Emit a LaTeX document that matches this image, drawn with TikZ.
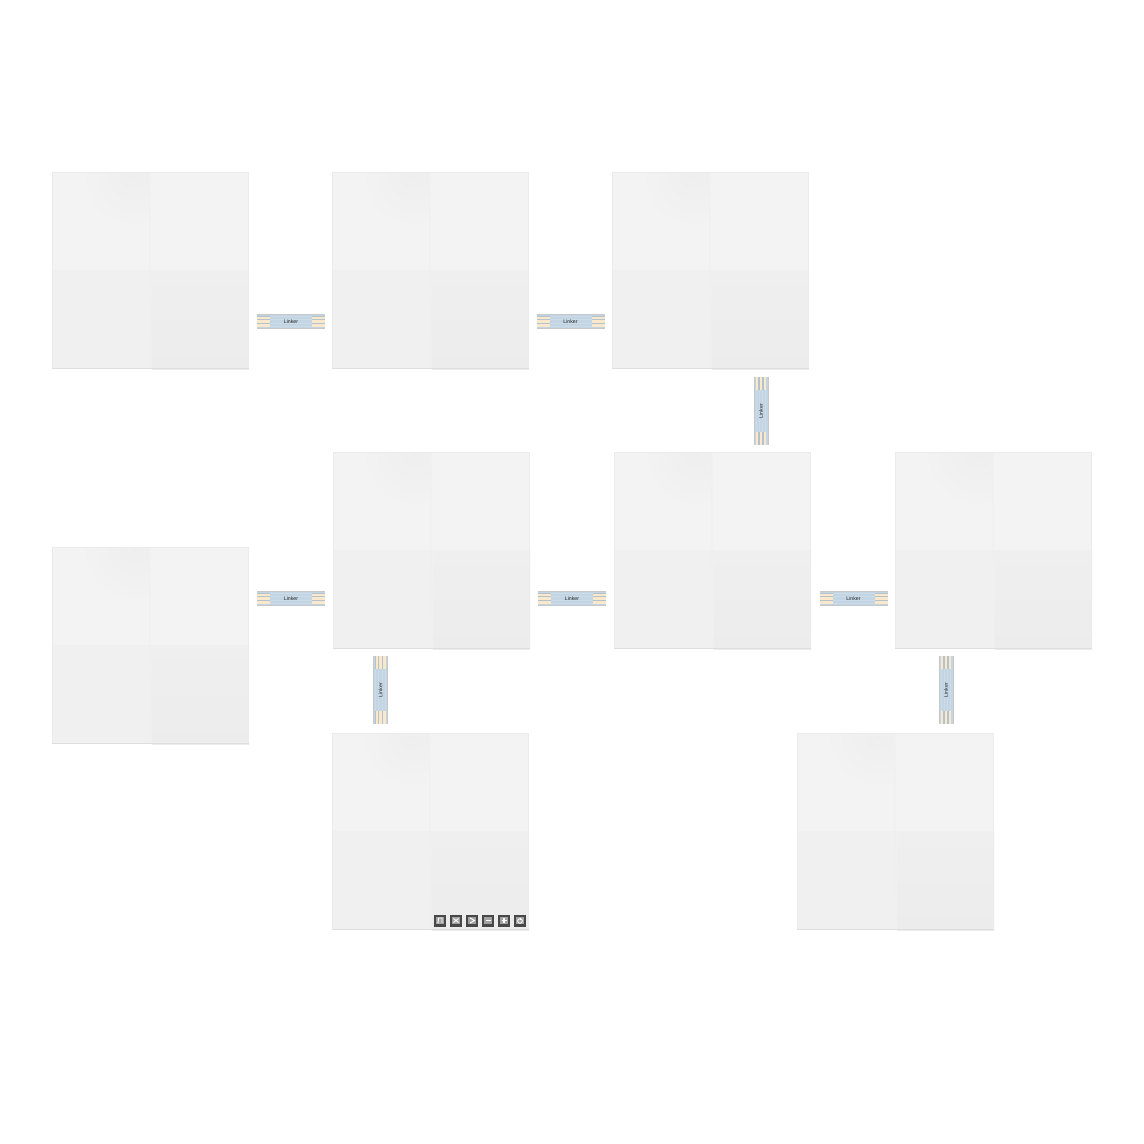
\documentclass[tikz,border=0pt]{standalone}
\usepackage{fontspec}
\setmainfont{Liberation Sans}
\definecolor{lkblue}{HTML}{C3D5E3}
\definecolor{lkstripe}{HTML}{CBDBE7}
\definecolor{lkgold}{HTML}{F9E8CC}
\definecolor{lkgap}{HTML}{B4C2CC}
\definecolor{icondark}{HTML}{484848}
\definecolor{iconmid}{HTML}{A2A2A2}
\colorlet{F1}{black!4.6}\colorlet{F1c}{black!6.6}
\colorlet{F2}{black!4.6}
\colorlet{F3}{black!5.9}
\colorlet{F4}{black!6.3}\colorlet{F4b}{black!7.4}
\colorlet{Seam}{black!6.2}
\colorlet{E1}{black!8}\colorlet{E2}{black!13}
\tikzset{
  panelbox/.style={minimum size=197pt,inner sep=0pt,outer sep=0pt,anchor=north west},
  linkh/.style={minimum width=68pt,minimum height=15pt,inner sep=0pt,outer sep=0pt,font=\fontsize{5.2}{6}\selectfont,text=black!85},
  linkv/.style={linkh,rotate=90},
  iconbox/.style={minimum size=12pt,inner sep=0pt,fill=icondark,draw=none},
  glyph/.style={draw=white,line width=.9pt}
}
\newcommand{\panelat}[3]{%
  \node[panelbox] (#1) at (#2,#3) {};
  \begin{scope}[shift={(#2,#3)}]
    \fill[F1] (0,0) rectangle (98,98);
    \begin{scope}
      \clip (0,0) rectangle (98,98);
      \shade[inner color=F1c,outer color=F1] (82,2) circle (58);
    \end{scope}
    \fill[F2] (98,0) rectangle (197,98);
    \fill[F3] (0,98) rectangle (100,197);
    \fill[top color=F4,bottom color=F4b] (100,98) rectangle (197,197);
    \draw[Seam,line width=.7pt] (98,0) -- (98,98) -- (100,197);
    \draw[Seam,line width=.7pt] (0,98) -- (197,98);
    \draw[E1,line width=1pt] (.5,.5) rectangle (196.5,196.5);
    \draw[E2,line width=.8pt] (0,196.6) -- (197,196.6);
  \end{scope}}
\newcommand{\linkerat}[5]{% name, cx, cy, angle, style
  \begin{scope}[shift={(#2,#3)},rotate=#4]
    \fill[lkblue] (-34,-7.5) rectangle (34,7.5);
    \foreach \y in {-5.2,-2.2,1.4,4.4}{
      \fill[lkstripe] (-21,\y) rectangle (21,\y+.8);
    }
    \foreach \s in {-1,1}{
      \fill[lkgap] (\s*34,-5.4) rectangle (\s*21,5.4);
      \foreach \y in {-5,-1.1,2.8}{
        \fill[lkgold] (\s*34,\y) rectangle (\s*21,\y+2.2);
      }
    }
    \draw[black!22,line width=.5pt] (-34,-7.2) -- (34,-7.2) (-34,7.2) -- (34,7.2);
  \end{scope}
  \node[#5] (#1) at (#2,#3) {Linker};}
\newcommand{\iconat}[2]{\node[iconbox] (#1) at (#2,920.5) {};
  \fill[iconmid] (#2-3.9,916.6) rectangle (#2+3.9,924.4);}
\begin{document}
\begin{tikzpicture}[x=1pt,y=-1pt]
\useasboundingbox (0,0) rectangle (1144,1144);
\fill[white] (0,0) rectangle (1144,1144);
\panelat{p1}{52}{172}
\panelat{p2}{332}{172}
\panelat{p3}{612}{172}
\panelat{p4}{333}{452}
\panelat{p5}{614}{452}
\panelat{p6}{895}{452}
\panelat{p7}{52}{547}
\panelat{p8}{332}{733}
\panelat{p9}{797}{733}
\linkerat{l1}{291}{321.5}{0}{linkh}
\linkerat{l2}{570.5}{321.5}{0}{linkh}
\linkerat{l3}{291}{598.5}{0}{linkh}
\linkerat{l4}{572}{598.5}{0}{linkh}
\linkerat{l5}{853.5}{598.5}{0}{linkh}
\linkerat{l6}{761}{411}{-90}{linkv}
\linkerat{l7}{380.5}{690}{-90}{linkv}
\linkerat{l8}{946}{690}{-90}{linkv}
\iconat{i1}{440}
\iconat{i2}{456}
\iconat{i3}{472}
\iconat{i4}{488}
\iconat{i5}{504}
\iconat{i6}{520}
\draw[glyph] (438,923.5) -- (438.5,918) -- (442,918) -- (442,923);
\draw[glyph] (453.5,918.5) -- (458.5,922.5) (453.5,922.5) -- (458.5,918.5);
\draw[glyph] (470,918) -- (474.5,920.5) -- (470,923);
\draw[glyph,line width=1.1pt] (485.5,920.5) -- (490.5,920.5);
\draw[glyph,line width=1.1pt] (501.5,920.5) -- (506.5,920.5) (504,918) -- (504,923);
\draw[glyph] (520,921) circle (2.3);
\draw[glyph] (520,917.5) -- (520,920);
\end{tikzpicture}
\end{document}
